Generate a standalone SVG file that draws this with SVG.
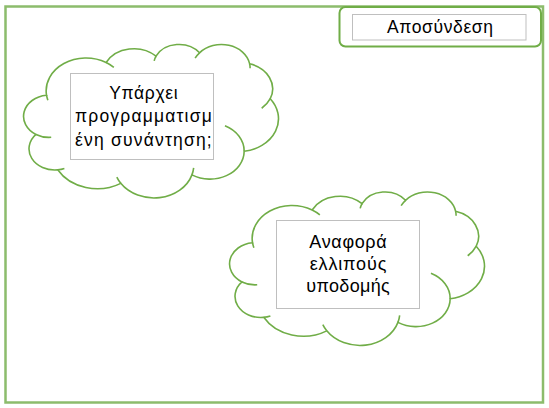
<svg xmlns="http://www.w3.org/2000/svg" width="549" height="408" viewBox="0 0 549 408">
<style>
.frame{fill:#ffffff;stroke:#8cbc6c;stroke-width:2.5}
.cloud{fill:#ffffff;stroke:#70ad47;stroke-width:1.6;vector-effect:non-scaling-stroke}
.inner{fill:none;stroke:#70ad47;stroke-width:1.6;vector-effect:non-scaling-stroke}
.box{fill:#ffffff;stroke:#bfbfbf;stroke-width:1}
.btn{fill:#ffffff;stroke:#70ad47;stroke-width:2}
.t{font-family:"Liberation Sans",Arial,sans-serif;fill:#000000;text-anchor:middle}
</style>
<defs>
<g id="cloudShape">
<path class="cloud" d="M3900 14370 A6753 9190 0 0 1 14000 5192 A5333 7267 0 0 1 22451 3422 A4365 5945 0 0 1 29828 2471 A4857 6595 0 0 1 38313 5566 A5333 7273 0 0 1 41798 15354 A6775 9220 0 0 1 37384 30097 A5785 7867 0 0 1 28536 36708 A6752 9215 0 0 1 16478 39090 A7720 10543 0 0 1 5802 35296 A4360 5918 0 0 1 2111 25374 A4345 5945 0 0 1 3900 14370 Z"/>
<path class="inner" d="M4693 26177 A4345 5945 0 0 1 2111 25374 M6928 34899 A4360 5918 0 0 1 5802 35296 M16478 39090 A6752 9215 0 0 1 15810 37350 M28827 34751 A6752 9215 0 0 1 28536 36708 M34129 22954 A5785 7867 0 0 1 37384 30097 M41798 15354 A5333 7273 0 0 1 40352 18027 M38313 5566 A4857 6595 0 0 1 38390 6830 M29078 3952 A4857 6595 0 0 1 29828 2471 M22141 4720 A4365 5945 0 0 1 22451 3422 M14000 5192 A6753 9190 0 0 1 15304 6550 M4127 15789 A6753 9190 0 0 1 3900 14370"/>
</g>
</defs>
<g id="frame">
<rect class="frame" x="5.5" y="6.5" width="537.5" height="396"/>
</g>
<g id="node-disconnect">
<rect class="btn" x="339.5" y="7" width="201.5" height="39.5" rx="6" ry="6"/>
<rect class="box" x="352.5" y="14.5" width="173.5" height="25.5"/>
<text class="t" x="440" y="33" font-size="17.5" textLength="106" lengthAdjust="spacing">Αποσύνδεση</text>
</g>
<g id="node-meeting">
<use href="#cloudShape" transform="translate(23.5,44) scale(0.00590278,0.00356481)"/>
<rect class="box" x="70.5" y="73.5" width="143" height="86"/>
<text class="t" x="143.4" y="98.5" font-size="17.5" textLength="68.4" lengthAdjust="spacing">Υπάρχει</text>
<text class="t" x="143.4" y="122" font-size="17.5" textLength="136.7" lengthAdjust="spacing">προγραμματισμ</text>
<text class="t" x="143.4" y="145.5" font-size="17.5" textLength="136.7" lengthAdjust="spacing">ένη συνάντηση;</text>
</g>
<g id="node-report">
<use href="#cloudShape" transform="translate(229.5,191.5) scale(0.00590278,0.00356481)"/>
<rect class="box" x="276.5" y="220.5" width="143" height="88"/>
<text class="t" x="348" y="247.5" font-size="18" textLength="77.3" lengthAdjust="spacing">Αναφορά</text>
<text class="t" x="348" y="269.5" font-size="18" textLength="76.7" lengthAdjust="spacing">ελλιπούς</text>
<text class="t" x="348" y="291.5" font-size="18" textLength="83.3" lengthAdjust="spacing">υποδομής</text>
</g>
<g id="connectors"></g>
</svg>
